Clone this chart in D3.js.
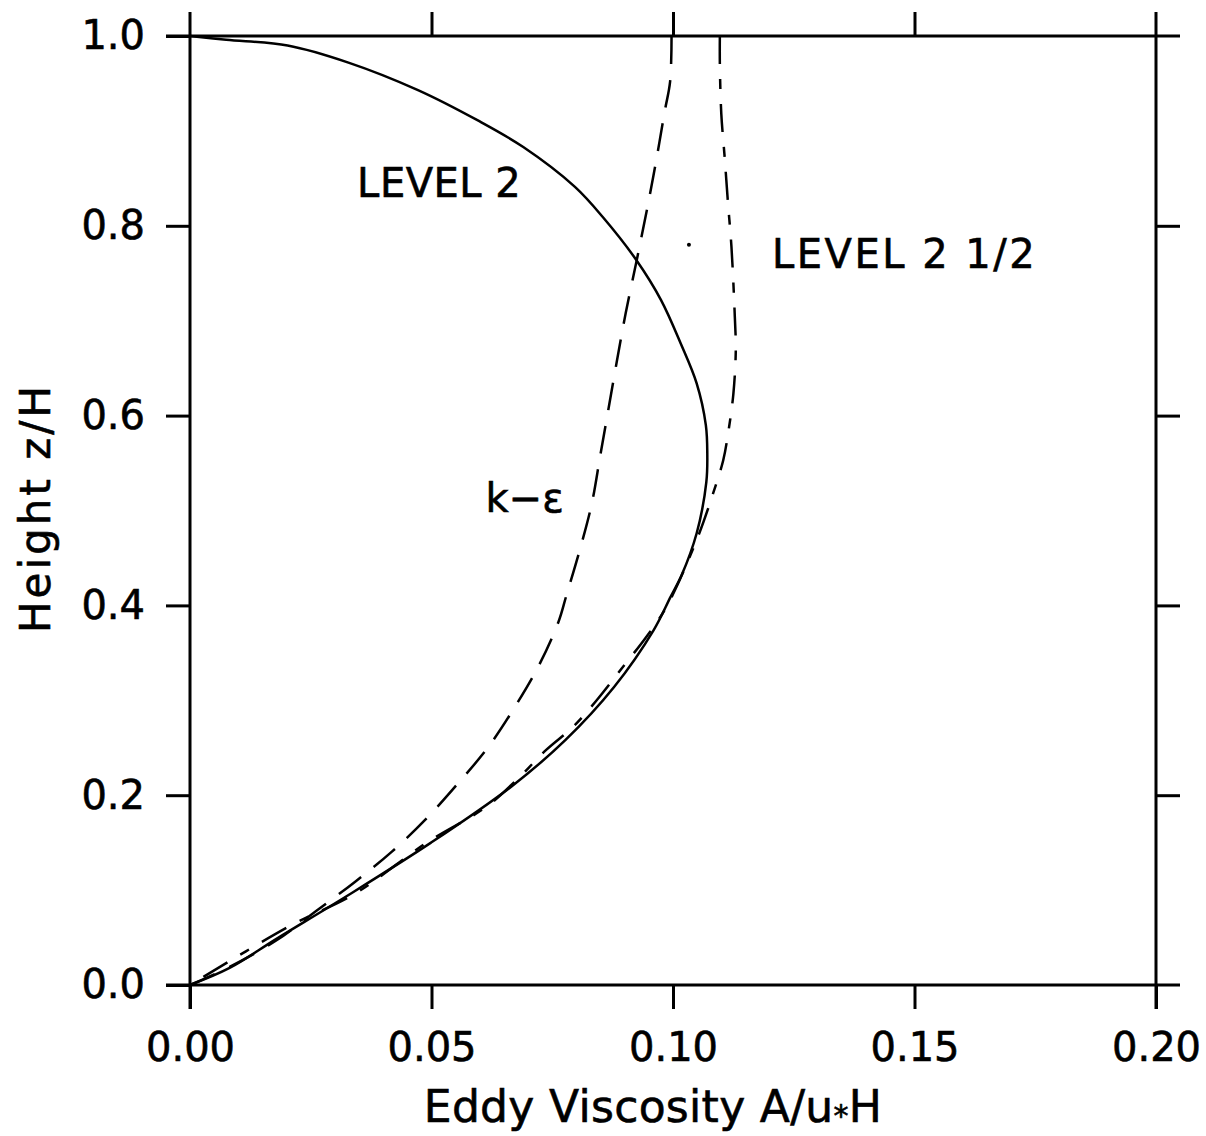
<!DOCTYPE html>
<html>
<head>
<meta charset="utf-8">
<script src="https://cdn.jsdelivr.net/npm/d3@7"></script>
<style>
  body { margin: 0; background: #fff; }
  text { font-family: "DejaVu Sans", sans-serif; fill: #000; stroke: #000; stroke-width: 0.6px; }
</style>
</head>
<body>
<div id="chart"></div>
<script>
// data: eddy viscosity A/u*H vs height z/H
const level2 = [
  [0, 0], [0.0082, 0.018], [0.0179, 0.0486], [0.0324, 0.0935], [0.0499, 0.150],
  [0.0665, 0.209], [0.0777, 0.258], [0.0878, 0.314], [0.0960, 0.374], [0.0995, 0.409],
  [0.1018, 0.432], [0.1049, 0.476], [0.1069, 0.530], [0.1071, 0.560], [0.1068, 0.590],
  [0.1049, 0.634], [0.1016, 0.676], [0.0975, 0.722], [0.0924, 0.764], [0.0855, 0.809],
  [0.0797, 0.841], [0.0690, 0.883], [0.0596, 0.911], [0.0472, 0.943], [0.0328, 0.972],
  [0.0202, 0.990], [0.0075, 0.996], [0, 1.0]
];
const kEps = [
  [0, 0], [0.0082, 0.019], [0.0180, 0.0474], [0.0259, 0.0772], [0.0342, 0.1089],
  [0.0418, 0.1405], [0.0490, 0.1757], [0.0555, 0.2125], [0.0618, 0.2511], [0.0673, 0.2933],
  [0.0721, 0.3354], [0.0763, 0.3828], [0.0779, 0.410], [0.0807, 0.4584], [0.0832, 0.5076],
  [0.0849, 0.5567], [0.0866, 0.6059], [0.0883, 0.6551], [0.0902, 0.7078], [0.0925, 0.764],
  [0.0948, 0.822], [0.0966, 0.871], [0.0983, 0.921], [0.0994, 0.952], [0.0997, 1.0]
];
const level25 = [
  [0, 0], [0.0206, 0.062], [0.0344, 0.097], [0.0489, 0.1497], [0.0614, 0.188],
  [0.0676, 0.216], [0.0738, 0.248], [0.0793, 0.272], [0.0842, 0.300], [0.0897, 0.3356],
  [0.0945, 0.367], [0.0987, 0.399], [0.1049, 0.469], [0.1083, 0.518], [0.1104, 0.553],
  [0.1114, 0.581], [0.1125, 0.623], [0.1130, 0.669], [0.1128, 0.704], [0.1121, 0.778],
  [0.1114, 0.823], [0.1107, 0.872], [0.1100, 0.918], [0.1097, 0.971], [0.1097, 1.0]
];
const xTicks = [0, 0.05, 0.10, 0.15, 0.20];
const yTicks = [0, 0.2, 0.4, 0.6, 0.8, 1.0];
const labels = [
  {text: "LEVEL 2", x: 0.0346, z: 0.830, spacing: 0.5},
  {text: "LEVEL 2 1/2", x: 0.1205, z: 0.756, spacing: 2.5},
  {text: "k\u2212\u03b5", x: 0.0612, z: 0.498, spacing: 0}
];
const strayDot = [[0.1033, 0.780]];

const width = 1206, height = 1136;
const tick = 24;

const svg = d3.select("#chart").append("svg")
    .attr("width", width)
    .attr("height", height);

const x = d3.scaleLinear().domain([0, 0.2]).range([190, 1156]);
const y = d3.scaleLinear().domain([0, 1]).range([985, 36]);

const [x0, x1] = x.range();
const [y0, y1] = y.range();

// frame, each side running past the corners by a tick length
const frame = svg.append("g").attr("stroke", "#000").attr("stroke-width", 3);
frame.append("line").attr("x1", x0 - tick).attr("x2", x1 + tick).attr("y1", y0).attr("y2", y0);
frame.append("line").attr("x1", x0 - tick).attr("x2", x1 + tick).attr("y1", y1).attr("y2", y1);
frame.append("line").attr("x1", x0).attr("x2", x0).attr("y1", y1 - tick).attr("y2", y0 + tick);
frame.append("line").attr("x1", x1).attr("x2", x1).attr("y1", y1 - tick).attr("y2", y0 + tick);

function styleAxis(g) {
  g.select(".domain").remove();
  g.selectAll(".tick line").attr("stroke", "#000").attr("stroke-width", 3);
  g.selectAll(".tick text").style("font-size", "40px").attr("fill", "#000");
}

svg.append("g")
    .attr("transform", `translate(0,${y0})`)
    .call(d3.axisBottom(x).tickValues(xTicks).tickFormat(d3.format(".2f")).tickSize(tick).tickPadding(24))
    .call(styleAxis);

svg.append("g")
    .attr("transform", `translate(0,${y1})`)
    .call(d3.axisTop(x).tickValues(xTicks.slice(1, -1)).tickFormat("").tickSize(tick))
    .call(styleAxis);

svg.append("g")
    .attr("transform", `translate(${x0},0)`)
    .call(d3.axisLeft(y).tickValues(yTicks).tickFormat(d3.format(".1f")).tickSize(tick).tickPadding(21))
    .call(styleAxis);

svg.append("g")
    .attr("transform", `translate(${x1},0)`)
    .call(d3.axisRight(y).tickValues(yTicks.slice(1, -1)).tickFormat("").tickSize(tick))
    .call(styleAxis);

// axis titles
const xt = svg.append("text")
    .attr("x", 653).attr("y", 1122)
    .attr("text-anchor", "middle")
    .style("font-size", "44px")
    .style("letter-spacing", "0.3px");
xt.append("tspan").text("Eddy Viscosity A/u");
xt.append("tspan").text("*").style("font-size", "30px").attr("dy", 4);
xt.append("tspan").text("H").attr("dy", -4);

svg.append("text")
    .attr("transform", "translate(50,508) rotate(-90)")
    .attr("text-anchor", "middle")
    .style("font-size", "42px")
    .style("letter-spacing", "3px")
    .text("Height z/H");

// curves
const line = d3.line()
    .x(d => x(d[0]))
    .y(d => y(d[1]))
    .curve(d3.curveCatmullRom.alpha(0.5));

svg.append("path").datum(level2)
    .attr("d", line).attr("fill", "none")
    .attr("stroke", "#000").attr("stroke-width", 2.5);

// dashed curves drawn from the top so a dash meets the upper frame
svg.append("path").datum(kEps.slice().reverse())
    .attr("d", line).attr("fill", "none")
    .attr("stroke", "#000").attr("stroke-width", 2.5)
    .attr("stroke-dasharray", "28,16");

svg.append("path").datum(level25.slice().reverse())
    .attr("d", line).attr("fill", "none")
    .attr("stroke", "#000").attr("stroke-width", 2.5)
    .attr("stroke-dasharray", "28,15,10,15");

svg.selectAll(".stray").data(strayDot).enter().append("circle")
    .attr("cx", d => x(d[0])).attr("cy", d => y(d[1]))
    .attr("r", 2).attr("fill", "#000");

svg.selectAll(".lbl").data(labels).enter().append("text")
    .attr("x", d => x(d.x)).attr("y", d => y(d.z))
    .style("font-size", "40px")
    .style("letter-spacing", d => d.spacing + "px")
    .text(d => d.text);
</script>
</body>
</html>
